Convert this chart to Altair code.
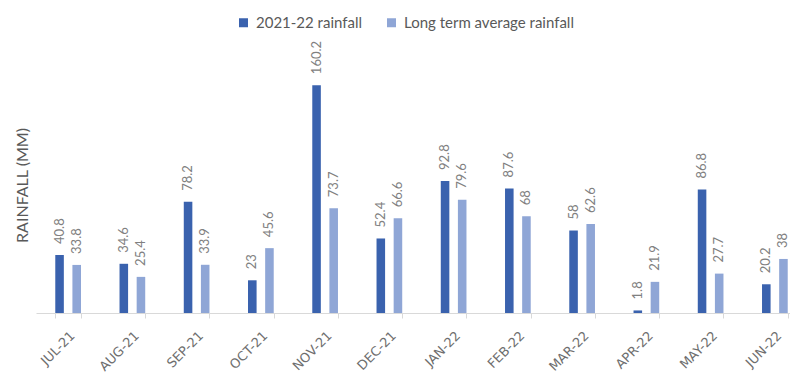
import altair as alt
import pandas as pd

months = ["JUL-21", "AUG-21", "SEP-21", "OCT-21", "NOV-21", "DEC-21",
          "JAN-22", "FEB-22", "MAR-22", "APR-22", "MAY-22", "JUN-22"]
rain_2122 = [40.8, 34.6, 78.2, 23, 160.2, 52.4, 92.8, 87.6, 58, 1.8, 86.8, 20.2]
rain_lta = [33.8, 25.4, 33.9, 45.6, 73.7, 66.6, 79.6, 68, 62.6, 21.9, 27.7, 38]
series = ["2021-22 rainfall", "Long term average rainfall"]
colors = ["#3A62AE", "#8FA6D6"]

rows = []
for m, a, b in zip(months, rain_2122, rain_lta):
    rows.append({"month": m, "series": series[0], "value": a, "label": f"{a:g}"})
    rows.append({"month": m, "series": series[1], "value": b, "label": f"{b:g}"})
df = pd.DataFrame(rows)

FONT = "Lato"

x = alt.X("month:N", sort=months, title=None,
          scale=alt.Scale(paddingInner=0.6, paddingOuter=0.3, range=[0, 771]),
          axis=alt.Axis(labelAngle=-45, labelFont="DejaVu Sans", labelFontSize=13,
                        labelColor="#6E6E6E", domainColor="#D9D9D9",
                        tickColor="#D9D9D9", tickSize=5, tickBand="extent",
                        labelPadding=11, grid=False))
y = alt.Y("value:Q", title="RAINFALL (MM)",
          scale=alt.Scale(domain=[0, 180], nice=False),
          axis=alt.Axis(labels=False, ticks=False, domain=False, grid=False,
                        titleFont=FONT, titleFontSize=16, titleColor="#595959",
                        titleFontWeight="normal", titlePadding=6))
xo = alt.XOffset("series:N", sort=series,
                 scale=alt.Scale(paddingInner=0.5, paddingOuter=0))

bars = alt.Chart(df).mark_bar().encode(
    x=x, y=y, xOffset=xo,
    color=alt.Color("series:N", sort=series,
                    scale=alt.Scale(domain=series, range=colors),
                    legend=alt.Legend(title=None, orient="none", direction="horizontal",
                                      legendX=200, legendY=-42,
                                      symbolType="square", symbolSize=81,
                                      labelFont=FONT, labelFontSize=15, labelLimit=400,
                                      labelColor="#595959", columnPadding=21,
                                      labelOffset=5)),
)

labels = alt.Chart(df).mark_text(angle=270, align="left", baseline="middle",
                                 dx=11, font=FONT, fontSize=13, color="#808080").encode(
    x=x, y=y, xOffset=xo, text="label:N",
)

chart = (bars + labels).properties(
    width=754, height=256,
    padding={"left": 36, "top": 57, "right": 0, "bottom": 63},
    autosize=alt.AutoSizeParams(type="none"),
    background="white",
).configure_view(stroke=None)

chart.save("out.html", embed_options={"renderer": "svg", "actions": False})
